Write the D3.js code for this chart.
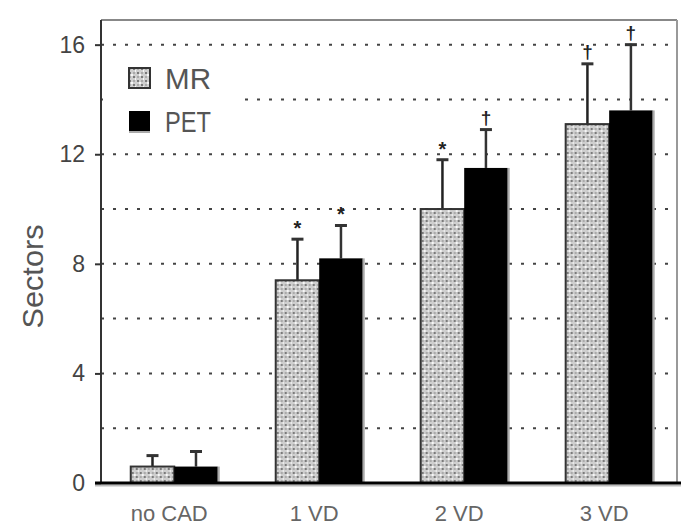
<!DOCTYPE html>
<html>
<head>
<meta charset="utf-8">
<script src="https://cdn.jsdelivr.net/npm/d3@7"></script>
<style>
  body { margin: 0; background: #fff; }
  svg { display: block; font-family: "Liberation Sans", Arial, sans-serif; }
</style>
</head>
<body>
<svg id="chart"></svg>
<script>
// Data
const categories = ["no CAD", "1 VD", "2 VD", "3 VD"];
const series = ["MR", "PET"];
const mrValues = [0.6, 7.4, 10.0, 13.1];
const mrSD = [0.4, 1.5, 1.8, 2.2];
const petValues = [0.6, 8.2, 11.5, 13.6];
const petSD = [0.55, 1.2, 1.4, 2.4];
const mrMarks = ["", "*", "*", "†"];
const petMarks = ["", "*", "†", "†"];
const yTicks = [0, 4, 8, 12, 16];
const gridValues = [2, 4, 6, 8, 10, 12, 14, 16];

const width = 681, height = 527;
const margin = { top: 20, right: 3, bottom: 44, left: 101 };

const svg = d3.select("#chart").attr("width", width).attr("height", height);

const x0 = d3.scaleBand().domain(categories)
    .range([margin.left, width - margin.right])
    .paddingInner(0.4).paddingOuter(0.19).align(0.54);
const x1 = d3.scaleBand().domain(series).range([0, x0.bandwidth()]);
const y = d3.scaleLinear().domain([0, 16.9]).range([height - margin.bottom, margin.top]);

// stipple pattern for MR bars
const defs = svg.append("defs");
const pat = defs.append("pattern").attr("id", "stipple")
    .attr("width", 8).attr("height", 8).attr("patternUnits", "userSpaceOnUse");
pat.append("rect").attr("width", 8).attr("height", 8).attr("fill", "#cfcfcf");
[[1, 0, "#7a7a7a"], [5, 4, "#7a7a7a"], [3, 2, "#f6f6f6"], [7, 6, "#f6f6f6"], [5, 0, "#aaa"], [1, 4, "#aaa"]]
  .forEach(([px, py, c]) => pat.append("rect").attr("x", px).attr("y", py)
      .attr("width", 2).attr("height", 2).attr("fill", c));

const x0r = x0.range();

// frame (top and right)
svg.append("line").attr("x1", x0r[0]).attr("x2", width - margin.right - 1)
    .attr("y1", margin.top).attr("y2", margin.top)
    .attr("stroke", "#888").attr("stroke-width", 2);
svg.append("line").attr("x1", width - margin.right - 1).attr("x2", width - margin.right - 1)
    .attr("y1", margin.top).attr("y2", y(0))
    .attr("stroke", "#999").attr("stroke-width", 2);

// dotted grid
svg.append("g").selectAll("line").data(gridValues).enter().append("line")
    .attr("x1", x0r[0]).attr("x2", width - margin.right - 2)
    .attr("y1", d => y(d)).attr("y2", d => y(d))
    .attr("stroke", "#444").attr("stroke-width", 2)
    .attr("stroke-dasharray", "3,9");

// y axis
const yAxis = svg.append("g").attr("transform", `translate(${x0r[0]},0)`)
    .call(d3.axisLeft(y).tickValues(yTicks).tickSize(6).tickPadding(10).tickFormat(d3.format("d")));
yAxis.select(".domain").attr("d", `M0,${margin.top}V${y(0)}`).attr("stroke", "#333").attr("stroke-width", 2);
yAxis.selectAll(".tick line").attr("stroke", "#333").attr("stroke-width", 2);
yAxis.selectAll(".tick text").attr("fill", "#444").style("font-size", "23px")
    .attr("font-family", "Liberation Sans, Arial, sans-serif");

// y label
svg.append("text")
    .attr("transform", `translate(43,${(y(0) + margin.top) / 2 + 25}) rotate(-90)`)
    .attr("text-anchor", "middle")
    .attr("fill", "#555").style("font-size", "29px")
    .attr("textLength", 104).attr("lengthAdjust", "spacingAndGlyphs")
    .text("Sectors");

// legend (white background hides grid)
const legend = svg.append("g");
legend.append("rect").attr("x", x0r[0] + 2).attr("y", 55).attr("width", 140).attr("height", 86).attr("fill", "#fff");
series.forEach((s, i) => {
  const ly = 68 + i * 43;
  legend.append("rect").attr("x", 129).attr("y", ly).attr("width", 21).attr("height", 20)
      .attr("fill", i === 0 ? "url(#stipple)" : "#000")
      .attr("stroke", i === 0 ? "#333" : "none").attr("stroke-width", 2);
  if (i === 1) legend.append("rect").attr("x", 129).attr("y", ly + 20).attr("width", 21).attr("height", 2).attr("fill", "#aaa");
  legend.append("text").attr("x", 165).attr("y", ly + 21)
      .attr("fill", "#555").style("font-size", "29px")
      .attr("textLength", 46).attr("lengthAdjust", "spacingAndGlyphs")
      .text(s);
});

// bars
const rows = categories.map((c, i) => ({
  cat: c,
  items: [
    { key: "MR", v: mrValues[i], sd: mrSD[i], mark: mrMarks[i] },
    { key: "PET", v: petValues[i], sd: petSD[i], mark: petMarks[i] }
  ]
}));

const groups = svg.append("g").selectAll("g").data(rows).enter().append("g")
    .attr("transform", d => `translate(${x0(d.cat)},0)`);

// error bars
groups.selectAll("line.err").data(d => d.items).enter().append("line")
    .attr("class", "err")
    .attr("x1", d => x1(d.key) + x1.bandwidth() / 2).attr("x2", d => x1(d.key) + x1.bandwidth() / 2)
    .attr("y1", d => y(d.v)).attr("y2", d => y(d.v + d.sd))
    .attr("stroke", d => d.key === "MR" ? "#222" : "#333").attr("stroke-width", 2.5);
groups.selectAll("line.cap").data(d => d.items).enter().append("line")
    .attr("class", "cap")
    .attr("x1", d => x1(d.key) + x1.bandwidth() / 2 - 6).attr("x2", d => x1(d.key) + x1.bandwidth() / 2 + 6)
    .attr("y1", d => y(d.v + d.sd)).attr("y2", d => y(d.v + d.sd))
    .attr("stroke", "#333").attr("stroke-width", 3);

groups.selectAll("rect.bar").data(d => d.items).enter().append("rect")
    .attr("class", "bar")
    .attr("x", d => x1(d.key)).attr("width", x1.bandwidth())
    .attr("y", d => y(d.v)).attr("height", d => y(0) - y(d.v))
    .attr("fill", d => d.key === "MR" ? "url(#stipple)" : "#000")
    .attr("stroke", d => d.key === "MR" ? "#333" : "none").attr("stroke-width", 2);
// grey right edge on PET bars
groups.selectAll("rect.edge").data(d => d.items.filter(e => e.key === "PET")).enter().append("rect")
    .attr("class", "edge")
    .attr("x", d => x1(d.key) + x1.bandwidth()).attr("width", 2)
    .attr("y", d => y(d.v)).attr("height", d => y(0) - y(d.v))
    .attr("fill", "#aaa");

// significance marks
groups.selectAll("text.mark").data(d => d.items).enter().append("text")
    .attr("class", "mark")
    .attr("x", d => x1(d.key) + x1.bandwidth() / 2)
    .attr("y", d => y(d.v + d.sd) - (d.mark === "*" ? 4 : 6))
    .attr("text-anchor", "middle").attr("fill", "#222")
    .style("font-size", d => d.mark === "*" ? "20px" : "19px").style("font-weight", "bold")
    .text(d => d.mark);

// x axis baseline
svg.append("line").attr("x1", x0r[0] - 6).attr("x2", width)
    .attr("y1", y(0) + 2.5).attr("y2", y(0) + 2.5).attr("stroke", "#bbb").attr("stroke-width", 2);
svg.append("line").attr("x1", x0r[0] - 6).attr("x2", width)
    .attr("y1", y(0)).attr("y2", y(0)).attr("stroke", "#000").attr("stroke-width", 3);

// category labels
const xAxis = svg.append("g").attr("transform", `translate(-5,${y(0)})`)
    .call(d3.axisBottom(x0).tickSize(0).tickPadding(22));
xAxis.select(".domain").remove();
xAxis.selectAll(".tick text").attr("fill", "#666").style("font-size", "22px")
    .attr("font-family", "Liberation Sans, Arial, sans-serif");
</script>
</body>
</html>
